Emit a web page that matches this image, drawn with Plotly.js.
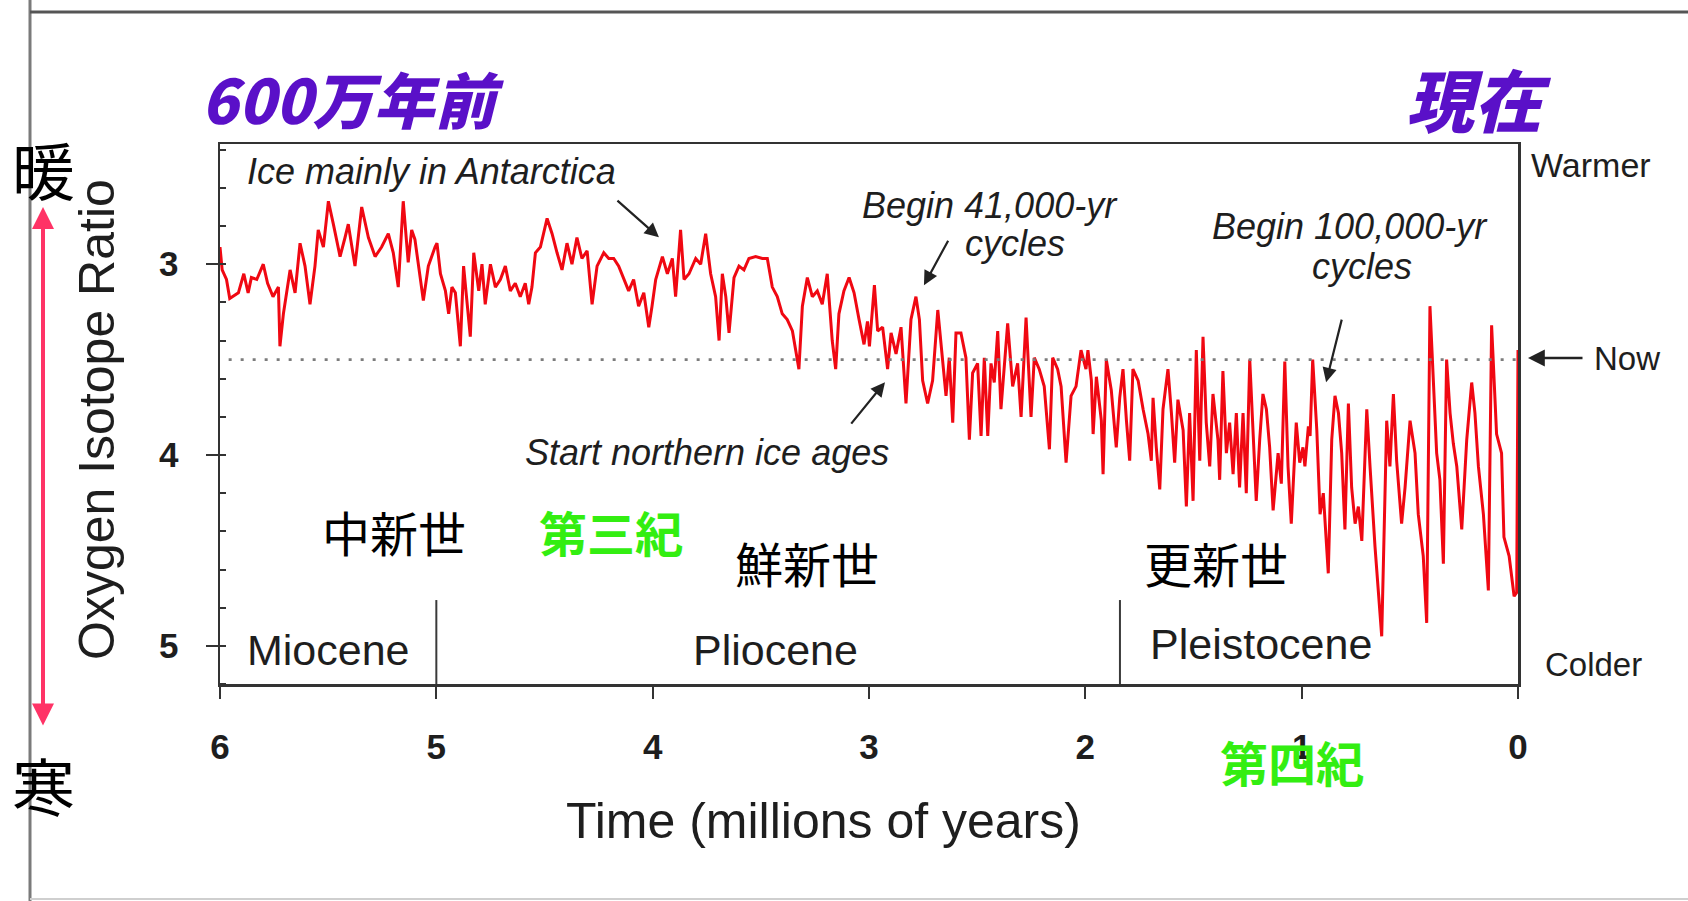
<!DOCTYPE html>
<html><head><meta charset="utf-8">
<script src="https://cdn.plot.ly/plotly-3.0.1.min.js"></script>
<style>html,body{margin:0;padding:0;background:#fff;}#chart{width:1688px;height:901px;}</style>
</head><body><div id="chart"></div>
<script>
// Age in millions of years before present
const ages = [
6.0,5.99,5.97,5.955,5.915,5.89,5.87,5.855,5.83,5.80,5.78,5.755,5.73,5.723,5.707,5.692,5.676,5.653,5.63,5.607,
5.584,5.561,5.546,5.522,5.499,5.476,5.445,5.422,5.407,5.376,5.345,5.314,5.283,5.253,5.222,5.199,5.176,5.153,5.13,5.114,
5.099,5.06,5.037,5.006,
4.997,4.981,4.958,4.943,4.928,4.912,4.889,4.874,4.858,4.843,4.827,4.804,4.789,4.774,4.750,4.727,4.704,4.681,4.658,4.635,
4.612,4.589,4.573,4.558,4.542,4.519,4.488,4.465,4.442,4.419,4.396,4.373,4.350,4.327,4.303,4.280,4.257,4.226,4.203,4.180,
4.157,4.134,4.111,4.088,4.065,4.041,4.018,4.003,
3.986,3.955,3.932,3.909,3.894,3.871,3.855,3.832,3.801,3.778,3.755,3.732,3.709,3.693,3.678,3.662,3.647,3.624,3.601,3.578,
3.555,3.524,3.493,3.470,3.447,3.424,3.401,3.378,3.354,3.339,3.324,3.308,3.285,3.262,3.239,3.216,3.193,3.170,3.154,3.139,
3.116,3.092,3.069,3.046,3.023,3.007,
2.998,2.975,2.960,2.937,2.914,2.898,2.875,2.852,2.829,2.806,2.783,2.767,2.752,2.729,2.706,2.682,2.667,2.644,2.629,2.613,
2.598,2.575,2.552,2.536,2.521,2.498,2.482,2.467,2.451,2.436,2.421,2.405,2.390,2.374,2.359,2.336,2.313,2.297,2.274,2.251,
2.236,2.213,2.190,2.166,2.151,2.128,2.112,2.089,2.066,2.043,2.020,1.997,
1.988,1.972,1.964,1.949,1.926,1.918,1.903,1.880,1.857,1.841,1.826,1.810,1.795,1.780,1.756,1.733,1.710,1.695,1.687,1.672,
1.656,1.641,1.618,1.602,1.587,1.572,1.548,1.533,1.518,1.502,1.487,1.471,1.456,1.441,1.425,1.410,1.387,1.379,1.364,1.348,
1.333,1.317,1.302,1.287,1.271,1.256,1.240,1.225,1.210,1.194,1.179,1.163,1.148,1.132,1.109,1.094,1.078,1.063,1.048,1.025,
1.009,0.994,
0.985,0.969,0.961,0.949,0.930,0.915,0.900,0.877,0.861,0.846,0.830,0.815,0.800,0.784,0.769,0.753,0.738,0.722,0.699,0.684,
0.661,0.630,0.615,0.607,0.592,0.576,0.561,0.538,0.522,0.499,0.476,0.461,0.438,0.422,0.407,0.392,0.376,0.361,0.345,0.330,
0.314,0.299,0.283,0.260,0.237,0.214,0.199,0.183,0.160,0.137,0.122,0.099,0.076,0.065,0.041,0.018,0.006,0.0
];
// Oxygen isotope ratio
const isotope = [
2.91,3.03,3.08,3.18,3.15,3.05,3.15,3.07,3.08,3.00,3.10,3.17,3.12,3.43,3.26,3.14,3.03,3.15,2.89,3.01,
3.21,3.01,2.82,2.91,2.67,2.79,2.96,2.86,2.79,3.01,2.70,2.86,2.96,2.91,2.84,2.94,3.12,2.67,2.99,2.82,
2.87,3.19,3.01,2.91,
2.89,3.05,3.14,3.26,3.12,3.15,3.43,3.01,3.22,3.38,2.94,3.14,3.00,3.21,3.00,3.12,3.08,3.01,3.14,3.10,
3.17,3.10,3.21,3.12,2.94,2.91,2.76,2.84,2.94,3.03,2.89,3.00,2.86,2.97,2.93,3.21,3.01,2.94,2.97,2.97,
3.01,3.08,3.14,3.08,3.22,3.15,3.33,3.22,
3.08,2.96,3.05,2.97,3.17,2.82,3.08,3.05,2.97,3.00,2.84,3.05,3.17,3.40,3.05,3.17,3.36,3.07,3.01,3.03,
2.97,2.96,2.97,2.97,3.12,3.17,3.26,3.29,3.35,3.45,3.55,3.22,3.07,3.17,3.14,3.21,3.05,3.40,3.55,3.26,
3.14,3.07,3.15,3.29,3.42,3.30,
3.43,3.11,3.35,3.33,3.55,3.36,3.47,3.33,3.73,3.29,3.17,3.29,3.61,3.73,3.61,3.24,3.42,3.69,3.49,3.83,
3.36,3.36,3.49,3.92,3.57,3.52,3.90,3.49,3.90,3.52,3.62,3.35,3.76,3.52,3.31,3.64,3.52,3.80,3.28,3.80,
3.49,3.55,3.64,3.97,3.49,3.55,3.64,4.04,3.69,3.64,3.45,3.55,
3.45,3.61,3.89,3.59,3.82,4.10,3.50,3.66,3.96,3.70,3.55,3.82,4.03,3.55,3.61,3.76,3.89,4.03,3.70,3.96,
4.18,3.76,3.55,3.78,4.04,3.71,3.87,4.27,3.78,4.24,3.45,4.03,3.38,3.83,4.06,3.68,3.92,4.13,3.56,3.99,
3.83,4.10,3.78,4.17,3.78,4.20,3.50,3.87,4.24,3.92,3.68,3.76,3.96,4.29,3.99,4.15,3.51,4.06,4.36,3.83,
4.04,3.96,
4.06,3.85,3.90,3.50,3.87,4.31,4.20,4.62,3.92,3.69,3.78,3.99,4.39,3.73,4.17,4.36,4.27,4.45,3.76,4.06,
4.48,4.95,4.13,3.82,4.06,3.68,4.03,4.36,4.17,3.82,3.99,4.31,4.53,4.88,3.22,3.61,3.99,4.13,4.57,3.50,
3.78,3.94,4.06,4.39,3.92,3.62,3.78,4.06,4.31,4.71,3.32,3.89,3.99,4.43,4.53,4.74,4.72,3.45
];
const xTickVals = [6,5,4,3,2,1,0];
const yTickVals = [3,4,5];
const epochNames = ['Miocene','Pliocene','Pleistocene'];
const epochLabelAges = [5.5, 3.43, 1.19];
const epochBoundaryAges = [5.0, 1.84];
const nowLevel = 3.5;

// plot-area pixel box, for placing text outside the axes
const L=220, R=1518, T=144, B=684;
const px = x => (x-L)/(R-L);
const py = y => (B-y)/(B-T);

const latin = 'Liberation Sans, Arial, Helvetica, sans-serif';
const cjk = 'Noto Sans CJK JP, Noto Sans CJK SC, sans-serif';
const ink = '#1e1e1e';

const trace = {
  x: ages, y: isotope, type: 'scatter', mode: 'lines',
  line: {color: 'rgb(240,8,18)', width: 3}, hoverinfo: 'skip', showlegend: false
};

const shapes = [
  {type:'line', xref:'x', yref:'y', x0:5.96, x1:0, y0:nowLevel, y1:nowLevel,
   line:{color:'#7c7c7c', width:2.6, dash:'3px,9px'}},
  {type:'line', xref:'paper', yref:'paper', x0:px(30), x1:px(30), y0:py(0), y1:py(901), line:{color:'#7a7a7a', width:3}},
  {type:'line', xref:'paper', yref:'paper', x0:px(30), x1:px(1688), y0:py(12), y1:py(12), line:{color:'#555', width:3}},
  {type:'line', xref:'paper', yref:'paper', x0:px(30), x1:px(1688), y0:py(899), y1:py(899), line:{color:'#cfcfcf', width:2}}
];
epochBoundaryAges.forEach(a => shapes.push({type:'line', xref:'x', yref:'y', x0:a, x1:a, y0:4.76, y1:5.2,
  line:{color:'#3a3a3a', width:2}}));

const ann = [];
function ptext(text, x, y, font, extra) {
  ann.push(Object.assign({xref:'paper', yref:'paper', x:px(x), y:py(y), text:text, showarrow:false,
    xanchor:'center', yanchor:'middle', font:font}, extra || {}));
}
function arrow(x, y, ax, ay) {
  ann.push({xref:'x', yref:'y', x:x, y:y, ax:ax, ay:ay, text:'', showarrow:true,
    arrowhead:2, arrowsize:1.3, arrowwidth:2.2, arrowcolor:'#222'});
}
const noteFont = {family:latin, size:36, color:ink, style:'italic'};
// epoch names
epochNames.forEach((n,i) => ann.push({xref:'x', yref:'y', x:epochLabelAges[i], y: i===2 ? 4.99 : 5.02, text:n,
  showarrow:false, xanchor:'center', yanchor:'middle', font:{family:latin, size:43, color:ink}}));
// in-plot notes with arrows
ptext('Ice mainly in Antarctica', 245, 172, noteFont, {xanchor:'left'});
arrow(3.971, 2.859, -43, -38);
ptext('Begin 41,000-yr', 990, 205, noteFont);
ptext('cycles', 1015, 243, noteFont);
arrow(2.746, 3.11, 25, -46);
ptext('Begin 100,000-yr', 1350, 226, noteFont);
ptext('cycles', 1362, 266, noteFont);
arrow(0.887, 3.618, 16, -64);
ptext('Start northern ice ages', 707, 452, noteFont);
arrow(2.926, 3.618, -35, 43);
// right side labels
ptext('Warmer', 1591, 165, {family:latin, size:34, color:ink});
ptext('Now', 1627, 358, {family:latin, size:33, color:ink});
ann.push({xref:'paper', yref:'paper', x:px(1528), y:py(358), ax:px(1584), ay:py(358), axref:'paper', ayref:'paper',
  text:'', showarrow:true, arrowhead:2, arrowsize:1.4, arrowwidth:2.4, arrowcolor:'#222'});
ptext('Colder', 1593, 664, {family:latin, size:33, color:ink});
// axis titles
ptext('Oxygen Isotope Ratio', 97, 420, {family:latin, size:50, color:ink}, {textangle:-90});
ptext('Time (millions of years)', 823, 821, {family:latin, size:50, color:ink});
// Japanese headings and labels
const purple = '#5a10c8';
ptext('600万年前', 352, 97, {family:cjk, size:61, color:purple, weight:900, style:'italic'});
ptext('現在', 1479, 97, {family:cjk, size:68, color:purple, weight:900, style:'italic'});
ptext('暖', 43, 167, {family:cjk, size:63, color:'#000'});
ptext('寒', 43, 783, {family:cjk, size:63, color:'#000'});
ann.push({xref:'paper', yref:'paper', x:px(43), y:py(207), ax:px(43), ay:py(727), axref:'paper', ayref:'paper',
  text:'', showarrow:true, arrowside:'end+start', arrowhead:2, startarrowhead:2, arrowsize:1.1, startarrowsize:1.1,
  arrowwidth:4, arrowcolor:'#ff3366', standoff:0, startstandoff:0});
const green = '#33ee11';
[['中新世',394,531,'#000',400],['第三紀',611,531,green,700],['鮮新世',807,562,'#000',400],
 ['更新世',1216,562,'#000',400],['第四紀',1292,761,green,700]].forEach(d =>
  ptext(d[0], d[1], d[2], {family:cjk, size:48, color:d[3], weight:d[4]}));

const layout = {
  width:1688, height:901,
  margin:{l:L, r:1688-R, t:T, b:901-B, pad:0},
  paper_bgcolor:'#fff', plot_bgcolor:'#fff',
  showlegend:false,
  xaxis:{range:[6,0], tickvals:xTickVals, ticks:'outside', ticklen:12, tickwidth:2, tickcolor:'#333',
    showline:true, linecolor:'#333', linewidth:2.5, mirror:true, showgrid:false, zeroline:false,
    ticklabelstandoff:18, tickfont:{family:latin, size:35, color:ink, weight:700}},
  yaxis:{range:[5.2,2.37], tickvals:yTickVals, ticks:'outside', ticklen:12, tickwidth:2, tickcolor:'#333',
    minor:{dtick:0.2, tick0:3, ticks:'inside', ticklen:6, tickwidth:2, tickcolor:'#333'},
    showline:true, linecolor:'#333', linewidth:2.5, mirror:true, showgrid:false, zeroline:false,
    ticklabelstandoff:20, tickfont:{family:latin, size:35, color:ink, weight:700}},
  shapes: shapes,
  annotations: ann
};
Plotly.newPlot('chart', [trace], layout, {displayModeBar:false, staticPlot:true});
</script></body></html>
